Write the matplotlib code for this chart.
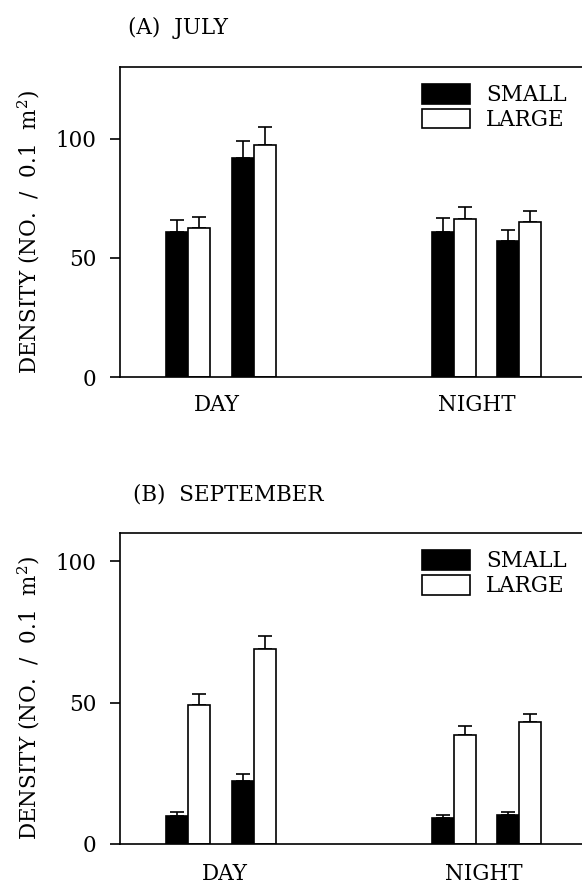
import numpy as np
import matplotlib
matplotlib.use("Agg")
import matplotlib.pyplot as plt
from matplotlib.patches import Patch

plt.rcParams['font.family'] = ['DejaVu Serif']
plt.rcParams['mathtext.fontset'] = 'dejavuserif'

groups = ['DAY', 'NIGHT']
series = ['SMALL', 'LARGE']

# (A) July
july_small = [61, 92, 61, 57]
july_small_err = [5, 7, 5.8, 4.5]
july_large = [62.5, 97.5, 66.3, 64.8]
july_large_err = [4.6, 7.5, 5.1, 4.8]

# (B) September
sept_small = [10, 22.4, 9.1, 10.4]
sept_small_err = [1.3, 2.4, 1.0, 1.0]
sept_large = [49.1, 69.1, 38.4, 43.1]
sept_large_err = [3.8, 4.4, 3.2, 3.0]

fig = plt.figure(figsize=(5.82, 8.86), dpi=100)

FS = 15.5
LW = 1.2
bw = 1.0
# bar pair centres (x units = one bar width)
pair_x = np.array([3.09, 6.09, 15.18, 18.14])


def panel(rect, small, small_err, large, large_err, ymax,
          title, title_xy, label_x, label_pad):
    ax = fig.add_axes(rect)
    ax.bar(pair_x - bw / 2, small, width=bw, color='black', edgecolor='black',
           linewidth=LW, zorder=2)
    ax.bar(pair_x + bw / 2, large, width=bw, color='white', edgecolor='black',
           linewidth=LW, zorder=2)
    ax.errorbar(pair_x - bw / 2, small, yerr=[np.zeros(4), small_err],
                fmt='none', ecolor='black', elinewidth=LW, capsize=5,
                capthick=LW, zorder=1)
    ax.errorbar(pair_x + bw / 2, large, yerr=[np.zeros(4), large_err],
                fmt='none', ecolor='black', elinewidth=LW, capsize=5,
                capthick=LW, zorder=1)
    ax.set_xlim(0, 21)
    ax.set_ylim(0, ymax)
    ax.set_yticks([0, 50, 100])
    ax.set_xticks(label_x)
    ax.set_xticklabels(groups)
    ax.tick_params(axis='x', length=0, pad=label_pad, labelsize=FS)
    ax.tick_params(axis='y', direction='out', length=7, width=LW, pad=10,
                   labelsize=FS)
    for s in ['left', 'top', 'bottom']:
        ax.spines[s].set_linewidth(LW)
    ax.spines['right'].set_visible(False)
    ax.set_ylabel('DENSITY (NO.  /  0.1  m$^{2}$)', fontsize=FS)
    ax.yaxis.set_label_coords(-0.169, 0.468)
    handles = [Patch(facecolor='black', edgecolor='black', linewidth=LW),
               Patch(facecolor='white', edgecolor='black', linewidth=LW)]
    ax.legend(handles, series, loc='upper right', frameon=False, fontsize=FS,
              handlelength=2.25, handleheight=1.05, labelspacing=0.12,
              handletextpad=0.75, borderaxespad=0.3,
              bbox_to_anchor=(1.0, 0.995))
    fig.text(title_xy[0] / 582, 1 - title_xy[1] / 886, title, fontsize=FS,
             ha='left', va='center')
    return ax


panel([120 / 582, 1 - 377 / 886, 462 / 582, 310 / 886],
      july_small, july_small_err, july_large, july_large_err, 130,
      '(A)  JULY', (128, 28), [4.41, 16.23], 12)
panel([120 / 582, 1 - 844 / 886, 462 / 582, 311 / 886],
      sept_small, sept_small_err, sept_large, sept_large_err, 110,
      '(B)  SEPTEMBER', (133, 495), [4.77, 16.55], 14)

fig.savefig('out.png', dpi=100)
